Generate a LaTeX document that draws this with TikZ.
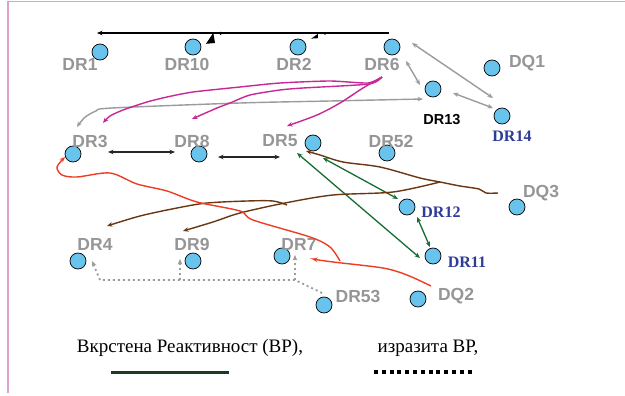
\documentclass[tikz,border=0pt]{standalone}
\usepackage{fontspec}
\setmainfont{Liberation Serif}
\newfontfamily\labfont{Liberation Sans}
\usetikzlibrary{arrows.meta}

\definecolor{dotblue}{RGB}{104,196,236}
\definecolor{labgray}{RGB}{150,150,150}
\definecolor{lingray}{RGB}{155,155,155}
\definecolor{magline}{RGB}{200,40,150}
\definecolor{brownline}{RGB}{105,55,20}
\definecolor{greenline}{RGB}{20,110,50}
\definecolor{redline}{RGB}{240,60,35}
\definecolor{pinkframe}{RGB}{222,160,205}
\definecolor{navy}{RGB}{45,60,150}
\definecolor{legendgreen}{RGB}{25,60,30}

\begin{document}
\begin{tikzpicture}[x=1pt,y=-1pt,
  >={Stealth[length=5.5pt,width=4.5pt]},
  site/.style={circle,draw=black,line width=0.7pt,fill=dotblue,minimum size=16pt,inner sep=0pt},
  graylab/.style={font=\labfont\bfseries\fontsize{17.5}{17.5}\selectfont,text=labgray,inner sep=0pt},
  bluelab/.style={font=\bfseries\fontsize{16}{16}\selectfont,text=navy,inner sep=0pt},
  blacklab/.style={font=\labfont\bfseries\fontsize{14.5}{14.5}\selectfont,text=black,inner sep=0pt},
  legendtext/.style={font=\fontsize{19}{19}\selectfont,inner sep=0pt},
  grayarrow/.style={draw=lingray,line width=1.4pt,<->},
  blackarrow/.style={draw=black!85,line width=1.4pt,<->},
  greenarrow/.style={draw=greenline,line width=1.3pt,<->},
  magarrow/.style={draw=magline,line width=1.4pt,->},
  brownarrow/.style={draw=brownline,line width=1.4pt,->},
  redarrow/.style={draw=redline,line width=1.4pt,->},
  dotarrow/.style={draw=lingray,line width=1.8pt,dash pattern=on 2pt off 3pt},
]
\useasboundingbox (0,0) rectangle (625,396);
\fill[white] (0,0) rectangle (625,396);

% frame
\draw[pinkframe,line width=1.5pt] (8,393) -- (8,1.5) -- (625,1.5);

% sites
\foreach \n/\x/\y in {dr1/100/52, dr10/193/47, dr2/298/47, dr6/392/47, dq1/492/68,
  dr13/433/89, dr14/502/116, dr3/73/154, dr8/199/154, dr5/313/143, dr52/387/153,
  dr12/407/207, dq3/517/207, dr11/433/256, dr53/324/305, dq2/418/299,
  dr4/78/261, dr9/193/261, dr7/282/256}
  \node[site] (\n) at (\x,\y) {};

% labels
\node[graylab] (l-dr1)  at (80,64)  {DR1};
\node[graylab] (l-dr10) at (187,64) {DR10};
\node[graylab] (l-dr2)  at (294,64) {DR2};
\node[graylab] (l-dr6)  at (382,64) {DR6};
\node[graylab] (l-dq1)  at (527,63) {DQ1};
\node[blacklab] (l-dr13) at (442,120) {DR13};
\node[bluelab] (l-dr14) at (512,136) {DR14};
\node[graylab] (l-dr3)  at (90,141)  {DR3};
\node[graylab] (l-dr8)  at (192,141) {DR8};
\node[graylab] (l-dr5)  at (280,141) {DR5};
\node[graylab] (l-dr52) at (391,141) {DR52};
\node[graylab] (l-dq3)  at (541,193) {DQ3};
\node[bluelab] (l-dr12) at (441,212) {DR12};
\node[bluelab] (l-dr11) at (467,262) {DR11};
\node[graylab] (l-dr4)  at (95,244)  {DR4};
\node[graylab] (l-dr9)  at (192,244) {DR9};
\node[graylab] (l-dr7)  at (299,244) {DR7};
\node[graylab] (l-dr53) at (358,296) {DR53};
\node[graylab] (l-dq2)  at (456,296) {DQ2};

% top bar with its marks
\coordinate (topR) at (389,33);
\coordinate (topL) at (97,33);
\draw[line width=1.3pt,->] (topR) -- (topL);
\fill (206,43.8) -- (213.3,32.8) -- (215,43) -- cycle;
\fill (220.7,33.3) circle (1.7);
\fill (311.2,38.6) -- (318,33.8) -- (317.8,38.2) -- cycle;
\fill (325,33.3) circle (1.5);

% gray links around DR6, DR13, DR14
\coordinate (g1a) at (412,43);  \coordinate (g1b) at (493,98);
\coordinate (g2a) at (406,61);  \coordinate (g2b) at (420,85);
\coordinate (g3a) at (453,93);  \coordinate (g3b) at (493,108);
\draw[grayarrow] (g1a) -- (g1b);
\draw[grayarrow] (g2a) -- (g2b);
\draw[grayarrow] (g3a) -- (g3b);
\coordinate (g4a) at (77,127); \coordinate (g4b) at (423,99);
\draw[grayarrow] plot[smooth,tension=0.5] coordinates {(g4a) (84,118) (96,111) (112,108) (240,103) (330,101) (g4b)};

% magenta strokes from DR6
\coordinate (m0) at (382,77);
\coordinate (m3) at (103,123);
\coordinate (m8) at (192,119);
\coordinate (m5) at (287,126);
\draw[magarrow] plot[smooth,tension=0.4] coordinates {(m0) (368,83) (330,81) (280,83) (240,87) (193,92) (167,97) (147,102) (123,110) (110,116) (m3)};
\draw[magarrow] plot[smooth,tension=0.4] coordinates {(m0) (369,84) (303,88) (280,90) (250,95) (230,103) (217,108) (m8)};
\draw[magarrow] plot[smooth,tension=0.5] coordinates {(m0) (363,88) (340,103) (317,115) (m5)};

% black links
\coordinate (b1a) at (108,152); \coordinate (b1b) at (175,152);
\coordinate (b2a) at (218,157); \coordinate (b2b) at (280,157);
\draw[blackarrow,line width=1.2pt] (b1a) -- (b1b);
\draw[blackarrow,line width=1.7pt] (b2a) -- (b2b);

% green links
\coordinate (e1a) at (297,153); \coordinate (e1b) at (420,258);
\coordinate (e2a) at (323,158); \coordinate (e2b) at (398,199);
\coordinate (e3a) at (417,217); \coordinate (e3b) at (430,247);
\draw[greenarrow] (e1a) -- (e1b);
\draw[greenarrow] (e2a) -- (e2b);
\draw[greenarrow] (e3a) -- (e3b);

% brown strokes from DQ3
\coordinate (n0) at (498,193);
\coordinate (nk) at (440,182);
\coordinate (nh) at (287,205);
\coordinate (n5) at (306,151);
\coordinate (n9) at (183,231);
\coordinate (n4) at (107,226);
\draw[brownarrow] plot[smooth,tension=0.5] coordinates {(n0) (486,193) (479,189) (460,186) (nk) (420,178) (380,167) (343,162) (320,155) (n5)};
\draw[brownarrow] plot[smooth,tension=0.5] coordinates {(nk) (393,192) (333,195) (285,203) (240,213) (213,222) (n9)};
\draw[brownarrow] plot[smooth,tension=0.5] coordinates {(nh) (273,201) (247,201) (207,203) (177,208) (140,216) (n4)};

% red strokes
\coordinate (r0) at (431,286); \coordinate (r7) at (312,259);
\draw[redarrow] plot[smooth,tension=0.5] coordinates {(r0) (407,275) (383,268) (333,262) (r7)};
\coordinate (s0) at (340,261); \coordinate (s3) at (65,157);
\draw[redarrow] plot[smooth,tension=0.5] coordinates {(s0) (330,247) (310,237) (253,220) (240,211) (197,202) (167,191) (137,184) (110,173) (77,177) (62,175) (57,167) (s3)};

% dotted gray links from DR53
\coordinate (d0) at (322,293);
\coordinate (dj) at (295,280);
\coordinate (dk) at (180,280);
\coordinate (dl) at (100,280);
\coordinate (d4) at (92,261);
\coordinate (d9) at (180,259);
\coordinate (d7) at (295,255);
\draw[dotarrow] (d0) -- (dj) -- (dl);
\draw[dotarrow,->] (dl) -- (d4);
\draw[dotarrow,->] (dk) -- (d9);
\draw[dotarrow,->] (dj) -- (d7);

% legend
\node[legendtext] (leg1) at (190,348) {Вкрстена Реактивност (ВР),};
\node[legendtext] (leg2) at (428,348) {изразита ВР,};
\coordinate (lg1a) at (111,372); \coordinate (lg1b) at (229,372);
\coordinate (lg2a) at (374,372); \coordinate (lg2b) at (472,372);
\draw[legendgreen,line width=3pt] (lg1a) -- (lg1b);
\draw[black,line width=4pt,dash pattern=on 4pt off 3.8pt] (lg2a) -- (lg2b);
\end{tikzpicture}
\end{document}
